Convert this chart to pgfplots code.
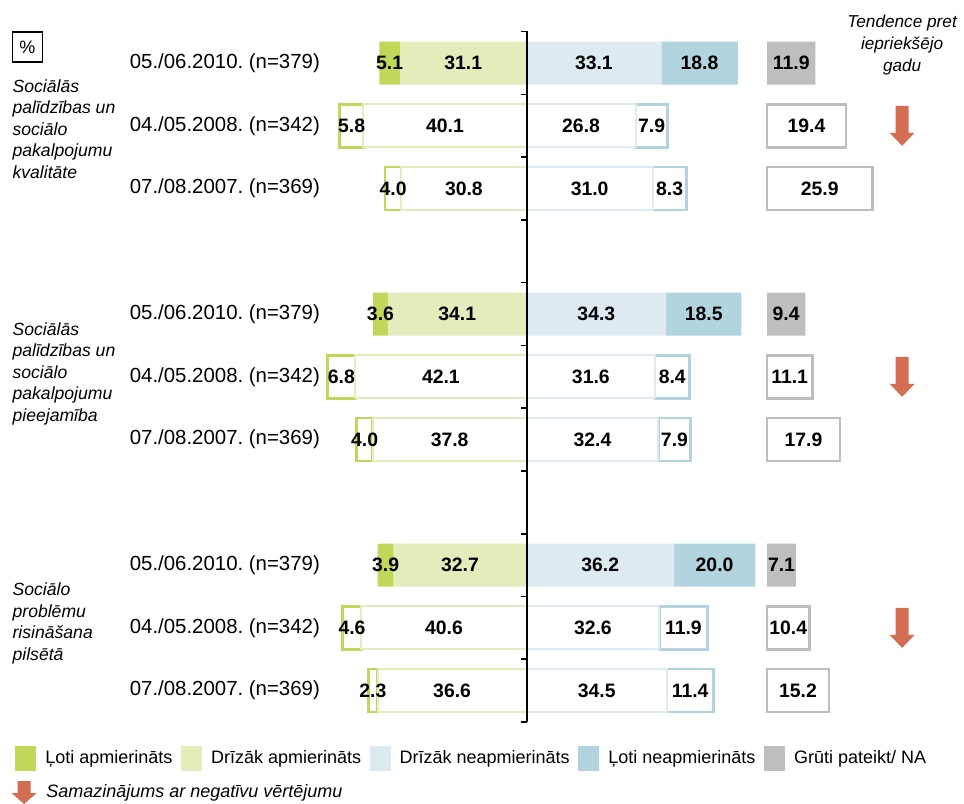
\documentclass[border=0pt]{standalone}
\usepackage{fontspec}
\setmainfont{Liberation Sans}
\usepackage{pgfplots}
\pgfplotsset{compat=1.18}
\usepackage{pgfplotstable}
\frenchspacing

\definecolor{cLA}{RGB}{192,216,90}
\definecolor{cDA}{RGB}{227,236,186}
\definecolor{cDN}{RGB}{221,234,240}
\definecolor{cLN}{RGB}{177,212,223}
\definecolor{cGR}{RGB}{190,190,190}
\definecolor{cAR}{RGB}{212,110,82}

\pgfdeclareplotmark{darr}{%
  \pgfpathmoveto{\pgfpoint{-3.25pt}{10pt}}%
  \pgfpathlineto{\pgfpoint{3.25pt}{10pt}}%
  \pgfpathlineto{\pgfpoint{3.25pt}{-3.5pt}}%
  \pgfpathlineto{\pgfpoint{6.25pt}{-3.5pt}}%
  \pgfpathlineto{\pgfpoint{0pt}{-10pt}}%
  \pgfpathlineto{\pgfpoint{-6.25pt}{-3.5pt}}%
  \pgfpathlineto{\pgfpoint{-3.25pt}{-3.5pt}}%
  \pgfpathclose
  \pgfusepathqfill}

% r = row slot, f = 1 for the 2010 (filled) rows
\pgfplotstableread{
r f li lo ri ro g gs
0 1 31.1 5.1 33.1 18.8 11.9 59.1
1 0 40.1 5.8 26.8 7.9 19.4 59.1
2 0 30.8 4.0 31.0 8.3 25.9 59.1
4 1 34.1 3.6 34.3 18.5 9.4 59.1
5 0 42.1 6.8 31.6 8.4 11.1 59.1
6 0 37.8 4.0 32.4 7.9 17.9 59.1
8 1 32.7 3.9 36.2 20.0 7.1 59.1
9 0 40.6 4.6 32.6 11.9 10.4 59.1
10 0 36.6 2.3 34.5 11.4 15.2 59.1
}\data

\pgfplotsset{
 base/.style={scale only axis, width=482pt, height=401.5pt,
   xmin=-129.4, xmax=107.5, ymin=-1.004, ymax=11.79, y dir=reverse,
   hide axis, clip=false},
 bars/.style={base, xbar stacked, bar width=0.685},
 filledbar/.style={fill=#1, draw=none},
 outbar/.style={fill=white, draw=#1},
 lab/.style={only marks, mark=none, nodes near coords, point meta=explicit symbolic,
   every node near coord/.append style={anchor=center, font=\fontsize{9.7}{11}\selectfont\bfseries, text=black}, forget plot},
}

\newcommand{\fd}{\fontsize{10.2}{12}\selectfont}
\newcommand{\fg}{\fontsize{8.8}{10.75}\selectfont}
\newcommand{\fl}{\fontsize{9}{11}\selectfont}

\begin{document}
\begin{tikzpicture}
% left side
\begin{axis}[bars]
\addplot[outbar=cDA, line width=1pt] table[x expr={-(1-\thisrow{f})*\thisrow{li}}, y=r]{\data};
\addplot[filledbar=cDA] table[x expr={-\thisrow{f}*\thisrow{li}}, y=r]{\data};
\addplot[filledbar=cLA] table[x expr={-\thisrow{f}*\thisrow{lo}}, y=r]{\data};
\addplot[outbar=cLA, line width=1.3pt] table[x expr={-(1-\thisrow{f})*\thisrow{lo}}, y=r]{\data};
\end{axis}
% right side
\begin{axis}[bars]
\addplot[outbar=cDN, line width=1pt] table[x expr={(1-\thisrow{f})*\thisrow{ri}}, y=r]{\data};
\addplot[filledbar=cDN] table[x expr={\thisrow{f}*\thisrow{ri}}, y=r]{\data};
\addplot[filledbar=cLN] table[x expr={\thisrow{f}*\thisrow{ro}}, y=r]{\data};
\addplot[outbar=cLN, line width=1.3pt] table[x expr={(1-\thisrow{f})*\thisrow{ro}}, y=r]{\data};
\end{axis}
% don't know / NA
\begin{axis}[bars]
\addplot[draw=none, fill=none] table[x=gs, y=r]{\data};
\addplot[filledbar=cGR] table[x expr={\thisrow{f}*\thisrow{g}}, y=r]{\data};
\addplot[outbar=cGR, line width=1.3pt] table[x expr={(1-\thisrow{f})*\thisrow{g}}, y=r]{\data};
\end{axis}
% labels, axis line, texts, legend
\begin{axis}[base,
  legend columns=5, legend cell align=left,
  legend style={at={(axis cs:-126.4,10.885)}, anchor=north west, draw=none, fill=none,
    inner sep=0pt, outer sep=0pt, row sep=5pt,
    nodes={inner sep=0pt, font=\fl},
    /tikz/every odd column/.append style={column sep=4.7pt},
    /tikz/every even column/.append style={column sep=4.2pt}}]
\path (rel axis cs:0,0) rectangle (rel axis cs:1,1);
\addplot[lab] table[x expr={-\thisrow{li}/2}, y=r, meta=li]{\data};
\addplot[lab] table[x expr={-\thisrow{li}-\thisrow{lo}/2}, y=r, meta=lo]{\data};
\addplot[lab] table[x expr={\thisrow{ri}/2}, y=r, meta=ri]{\data};
\addplot[lab] table[x expr={\thisrow{ri}+\thisrow{ro}/2}, y=r, meta=ro]{\data};
\addplot[lab] table[x expr={\thisrow{gs}+\thisrow{g}/2}, y=r, meta=g]{\data};
\addplot[only marks, mark=darr, color=cAR, forget plot] coordinates {(92.3,1) (92.3,5) (92.3,9)};

\draw[line width=1pt] (axis cs:0,-0.51) -- (axis cs:0,10.5);
\pgfplotsinvokeforeach{-0.5,0.5,1.5,2.5,3.5,4.5,5.5,6.5,7.5,8.5,9.5,10.5}{
  \draw[line width=0.8pt] (axis cs:0,#1) -- (axis cs:-1.3,#1);}

\node[draw, line width=0.6pt, minimum size=15pt, inner sep=0pt, font=\fl] at (axis cs:-122.7,-0.255) {\%};
\node[align=center, font=\fontsize{8.6}{11}\selectfont\itshape, inner sep=0pt] at (axis cs:92.3,-0.287) {Tendence pret\\iepriekšējo\\gadu};

\node[anchor=west, align=left, font=\fg\itshape, inner sep=0pt] at (axis cs:-126.4,1.05) {Sociālās\\palīdzības un\\sociālo\\pakalpojumu\\kvalitāte};
\node[anchor=west, align=left, font=\fg\itshape, inner sep=0pt] at (axis cs:-126.4,4.95) {Sociālās\\palīdzības un\\sociālo\\pakalpojumu\\pieejamība};
\node[anchor=west, align=left, font=\fg\itshape, inner sep=0pt] at (axis cs:-126.4,8.93) {Sociālo\\problēmu\\risināšana\\pilsētā};

\node[anchor=east, font=\fd, inner sep=0pt] at (axis cs:-50.7,0) {05./06.2010. (n=379)};
\node[anchor=east, font=\fd, inner sep=0pt] at (axis cs:-50.7,1) {04./05.2008. (n=342)};
\node[anchor=east, font=\fd, inner sep=0pt] at (axis cs:-50.7,2) {07./08.2007. (n=369)};
\node[anchor=east, font=\fd, inner sep=0pt] at (axis cs:-50.7,4) {05./06.2010. (n=379)};
\node[anchor=east, font=\fd, inner sep=0pt] at (axis cs:-50.7,5) {04./05.2008. (n=342)};
\node[anchor=east, font=\fd, inner sep=0pt] at (axis cs:-50.7,6) {07./08.2007. (n=369)};
\node[anchor=east, font=\fd, inner sep=0pt] at (axis cs:-50.7,8) {05./06.2010. (n=379)};
\node[anchor=east, font=\fd, inner sep=0pt] at (axis cs:-50.7,9) {04./05.2008. (n=342)};
\node[anchor=east, font=\fd, inner sep=0pt] at (axis cs:-50.7,10) {07./08.2007. (n=369)};

\addlegendimage{legend image code/.code={\fill[cLA] (0pt,-6pt) rectangle (10pt,6pt);}}
\addlegendentry{Ļoti apmierināts}
\addlegendimage{legend image code/.code={\fill[cDA] (0pt,-6pt) rectangle (10pt,6pt);}}
\addlegendentry{Drīzāk apmierināts}
\addlegendimage{legend image code/.code={\fill[cDN] (0pt,-6pt) rectangle (10pt,6pt);}}
\addlegendentry{Drīzāk neapmierināts}
\addlegendimage{legend image code/.code={\fill[cLN] (0pt,-6pt) rectangle (10pt,6pt);}}
\addlegendentry{Ļoti neapmierināts}
\addlegendimage{legend image code/.code={\fill[cGR] (0pt,-6pt) rectangle (10pt,6pt);}}
\addlegendentry{Grūti pateikt/ NA}
\addlegendimage{legend image code/.code={\fill[cAR] (1.25pt,5.5pt) -- (7.25pt,5.5pt) -- (7.25pt,-0.5pt) -- (10pt,-0.5pt) -- (4.25pt,-5.5pt) -- (-1.5pt,-0.5pt) -- (1.25pt,-0.5pt) -- cycle;}}
\addlegendentry{\rlap{\itshape Samazinājums ar negatīvu vērtējumu}}
\end{axis}
\end{tikzpicture}
\end{document}
